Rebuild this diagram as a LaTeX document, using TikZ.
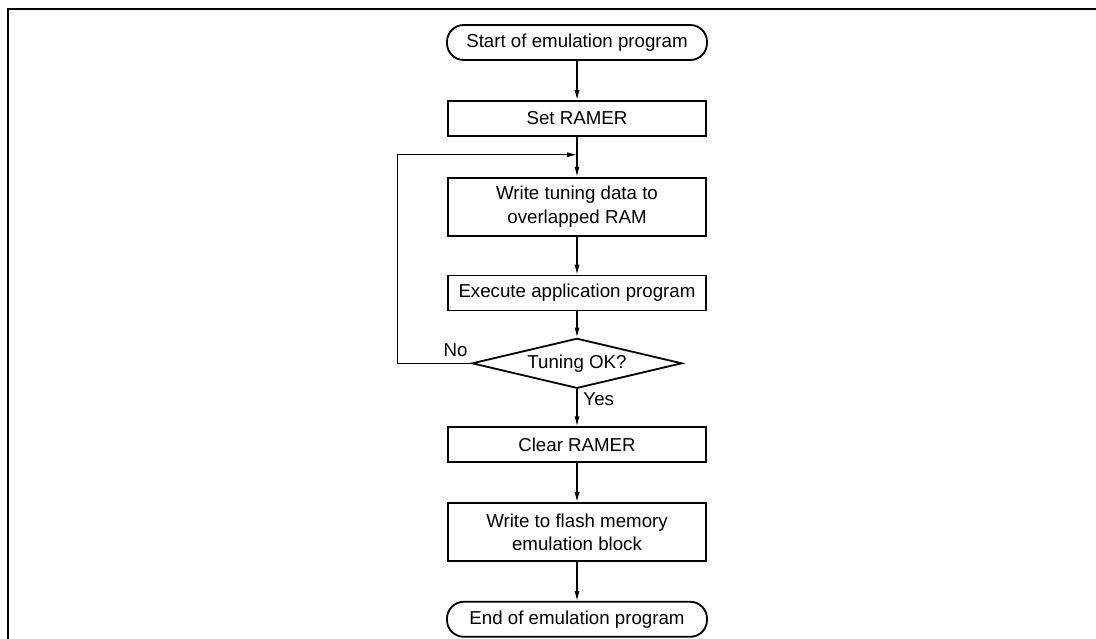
\documentclass[tikz,border=0pt]{standalone}
\usepackage{fontspec}
\setmainfont{Liberation Sans}
\usepackage{tikz}
\usetikzlibrary{arrows.meta,positioning,calc,shapes.geometric}

\begin{document}
\begin{tikzpicture}[
  node distance=0.975cm,
  box/.style={draw,line width=1.3pt,align=center,font=\fontsize{13.3}{16.5}\selectfont,
              minimum width=6.45cm,minimum height=0.875cm,inner sep=2pt},
  term/.style={box,rounded corners=0.42cm,minimum width=6.5cm},
  decide/.style={draw,line width=1.3pt,diamond,aspect=4.2,inner sep=0pt,
                 font=\fontsize{13.3}{16.5}\selectfont,
                 minimum width=5.25cm,minimum height=1.25cm},
  lbl/.style={font=\fontsize{13.3}{16.5}\selectfont,inner sep=1pt},
  arr/.style={-{Latex[length=7pt,width=3.6pt]},line width=0.8pt}
]
\useasboundingbox (0,0) rectangle (27.4,-15.975);
% frame
\draw[line width=1.4pt] (27.4,-0.225) -- (0.2,-0.225) -- (0.2,-15.975);

\node[term] (start) at (14.425,-1.0625) {Start of emulation program};
\node[box,below=of start] (setr) {Set RAMER};
\node[box,below=1cm of setr,minimum height=1.45cm] (write) {Write tuning data to\\overlapped RAM};
\node[box,below=0.95cm of write] (exec) {Execute application program};
\node[decide,below=0.65cm of exec] (tune) {Tuning OK?};
\node[box,below=0.925cm of tune] (clr) {Clear RAMER};
\node[box,below=of clr,minimum height=1.45cm] (flash) {Write to flash memory\\emulation block};
\node[term,below=of flash] (stop) {End of emulation program};

\coordinate (join) at ($(setr.south)!0.45!(write.north)$);
\node[lbl,above left=0.12cm and 0.05cm of tune.west] (no) {No};
\node[lbl,below right=0.05cm and 0.12cm of tune.south] (yes) {Yes};

\draw[arr] (start)--(setr);
\draw[arr] (setr)--(write);
\draw[arr] (write)--(exec);
\draw[arr] (exec)--(tune);
\draw[arr] (tune)--(clr);
\draw[arr] (clr)--(flash);
\draw[arr] (flash)--(stop);
\draw[arr] (tune.west) -- ++(-1.85,0) |- (join);
\end{tikzpicture}
\end{document}
